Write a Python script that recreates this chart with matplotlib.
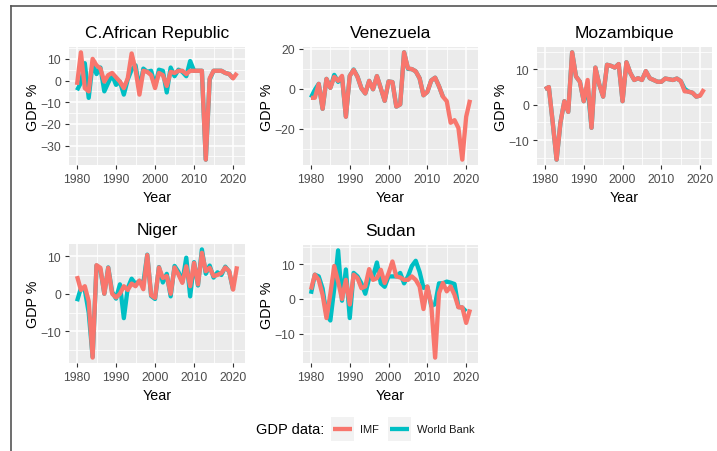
import numpy as np
import matplotlib
matplotlib.use('Agg')
import matplotlib.pyplot as plt
from matplotlib.lines import Line2D
from matplotlib.patches import Rectangle
from matplotlib.ticker import MultipleLocator

plt.rcParams['font.family'] = ['Liberation Sans', 'DejaVu Sans']

# Years covered by each source
years_imf = np.arange(1980, 2022)
years_wb = np.arange(1980, 2021)
years_wb_ven = np.arange(1980, 2015)

countries = ['C.African Republic', 'Venezuela', 'Mozambique', 'Niger', 'Sudan']

# Real GDP growth (%), IMF
imf_car = [-2, 13, -3.5, -5, 10, 7, 5.5, -0.5, 2.5, 3.5, 1.5, -0.5, -3.5, 1, 12.5, 5, -6.5, 4.5, 4, 2.5,
           -3.5, 3.5, 2.5, -2.5, 4, 3.5, 4.5, 4.5, 3, 4.5, 4.5, 4.5, 4.5, -36.5, 1, 4.5, 4.5, 4.5, 3.5, 3,
           1, 3.5]
imf_ven = [-4.5, -4.5, 2.5, -10, 5, 0.5, 6, 4, 6.5, -14, 6.5, 9.5, 6, 0.3, -2.3, 4, -0.2, 6.4, 0.3, -6,
           3.7, 3.4, -8.9, -7.8, 18.3, 10.3, 9.9, 8.8, 5.3, -3.2, -1.5, 4.2, 5.6, 1.3, -3.9, -6.2, -17,
           -15.7, -19.6, -35.5, -14, -5.5]
imf_moz = [4.4, 5, -5, -15.5, -5, 1, -2, 14.8, 8, 6.5, 1, 7, -6.5, 10.5, 5.7, 2.3, 11.3, 11, 10.5, 11.5,
           1, 12, 9, 7, 7.5, 7, 9.5, 7.5, 7, 6.5, 6.5, 7.4, 7.2, 7, 7.4, 6.7, 3.8, 3.7, 3.4, 2.3, 2.6, 4.4]
imf_ner = [4.7, 1, 2, -2, -17, 7.6, 6.9, 0, 6.9, 0, -1, 0, 2, 1, 2.7, 2, 3.5, 1.2, 10.3, -0.4, -1.1, 7,
           4.2, 4.7, 0, 7, 5.1, 2.9, 7.3, 2, 8.2, 2.5, 10.9, 6, 6.9, 4.7, 5, 5.5, 7, 6, 1.1, 7.3]
imf_sdn = [2.7, 7, 5.5, 1.2, -5.5, 1.5, 9.5, 5, 0, 5.5, -1.6, 7, 6, 3.1, 3.6, 8.6, 5.5, 6, 8.4, 4.6, 7.4,
           10.8, 6.5, 6.2, 5.5, 5.5, 6.5, 5.5, 3.6, -2.9, 3.6, -1.6, -16.9, 1.7, 4.6, 2.2, 3.6, 1.2, -2.4,
           -2.4, -6.9, -3]

# Real GDP growth (%), World Bank
wb_car = [-4.5, -1, 8, -8, 8, 3, 6, -5, -1, 2.5, -2, -0.5, -6.5, 0.5, 5, 7, -4, 5.5, 4, 4.5, -2.5, 5,
          4.5, -5.5, 6, 2, 5, 4, 2, 9, 4.5, 4.5, 4.5, -36.5, 0.5, 4.5, 4.5, 4.5, 3.5, 3, 1]
wb_ven = [-4.4, -0.5, 2.5, -10, 5, 0.5, 7, 3.5, 6, -13.9, 6.5, 9.7, 6.1, 0.3, -2.3, 4, -0.2, 6.4, 0.3,
          -6, 3.7, 3.4, -8.9, -7.8, 18.3, 10, 9.9, 8.8, 5.3, -3.2, -1.5, 4.2, 5.6, 1.3, -3.9]
wb_moz = [4.4, 5, -5, -15.5, -5, 1, -2, 14.8, 8, 6.5, 1, 4.9, -6.5, 10.5, 5.7, 2.3, 11.3, 11, 10.5, 11.5,
          1, 12, 9, 7, 7.5, 7, 9.5, 7.5, 7, 6.5, 6.5, 7.4, 7.2, 7, 7.4, 6.7, 4.5, 3.7, 3.4, 2.3, 2.6]
wb_ner = [-2, 1.5, 1, -5, -16.8, 7.5, 6.5, 0, 7, 0.5, -1.3, 2.5, -6.5, 1.5, 4, 2.6, 3.4, 2.8, 10.4, -0.6,
          -1.4, 7.1, 3, 5.3, -0.7, 7.4, 5.8, 3.1, 9.6, -0.7, 8.4, 2.2, 11.8, 5.3, 7.5, 4.3, 5.7, 5, 7.2,
          5.9, 1]
wb_sdn = [1.5, 7, 6.5, 3, -4.5, -6.2, 3, 14, -0.5, 8.5, -5.5, 7.5, 6.5, 4.5, 1.5, 6, 6.5, 10.5, 4.5, 3.5,
          6.5, 6.5, 6.5, 7.5, 4.5, 6.5, 9.5, 11, 7.8, 3.2, 3.5, -2, -1.5, 4.5, 4.5, 5, 4.7, 4.3, -2.3,
          -2.5, -3.6]

imf_series = [imf_car, imf_ven, imf_moz, imf_ner, imf_sdn]
wb_series = [wb_car, wb_ven, wb_moz, wb_ner, wb_sdn]
wb_years = [years_wb, years_wb_ven, years_wb, years_wb, years_wb]

# y-axis breaks per panel (major, minor)
y_steps = [(10, 5), (20, 10), (10, 5), (10, 5), (10, 5)]

IMF_COLOR = '#F8766D'
WB_COLOR = '#00BFC4'

W, H = 717, 452
fig = plt.figure(figsize=(W / 100, H / 100), dpi=100)

# panel boxes in pixels: left, top, right, bottom
boxes = [(69, 48, 245, 166), (303, 48, 478, 166), (537, 48, 712, 166),
         (69, 245, 245, 364), (303, 246, 478, 364)]


def panel(box, name, yrs_wb, wb, imf, steps):
    l, t, r, b = box
    ax = fig.add_axes([l / W, 1 - b / H, (r - l) / W, (b - t) / H])
    ax.set_facecolor('#EBEBEB')
    for s in ax.spines.values():
        s.set_visible(False)

    ax.plot(yrs_wb, wb, color=WB_COLOR, lw=3.1, solid_capstyle='butt', zorder=3)
    ax.plot(years_imf, imf, color=IMF_COLOR, lw=3.1, solid_capstyle='butt', zorder=4)

    # ggplot-style 5% expansion
    x0, x1 = years_imf.min(), years_imf.max()
    dx = (x1 - x0) * 0.05
    ax.set_xlim(x0 - dx, x1 + dx)
    vals = np.concatenate([imf, wb])
    y0, y1 = vals.min(), vals.max()
    dy = (y1 - y0) * 0.05
    ax.set_ylim(y0 - dy, y1 + dy)

    ax.xaxis.set_major_locator(MultipleLocator(10))
    ax.xaxis.set_minor_locator(MultipleLocator(5))
    ax.yaxis.set_major_locator(MultipleLocator(steps[0]))
    ax.yaxis.set_minor_locator(MultipleLocator(steps[1]))
    ax.grid(which='major', color='white', lw=1.1, zorder=0)
    ax.grid(which='minor', color='white', lw=0.55, zorder=0)
    ax.set_axisbelow(True)

    ax.tick_params(which='major', length=2.7, width=0.8, color='#333333',
                   labelsize=8.8, labelcolor='#4D4D4D', pad=3)
    ax.tick_params(which='minor', length=0)

    ax.set_title(name, fontsize=12.5, color='black', pad=7)
    ax.set_xlabel('Year', fontsize=10.3, labelpad=3.5)
    ax.set_ylabel('GDP %', fontsize=10.3, labelpad=0.5)
    return ax


for i, name in enumerate(countries):
    panel(boxes[i], name, wb_years[i], wb_series[i], imf_series[i], y_steps[i])

# legend at the bottom
def px(x, y):
    return x / W, 1 - y / H

fig.text(*px(256, 430), 'GDP data:', fontsize=10.5, va='center', ha='left')
for kx, col, lab in [(331, IMF_COLOR, 'IMF'), (388, WB_COLOR, 'World Bank')]:
    fig.add_artist(Rectangle(px(kx, 442), 23 / W, 24 / H, transform=fig.transFigure,
                             facecolor='#F2F2F2', edgecolor='none'))
    xa, ya = px(kx + 2, 430)
    xb, _ = px(kx + 21, 430)
    fig.add_artist(Line2D([xa, xb], [ya, ya], transform=fig.transFigure,
                          color=col, lw=3.1, solid_capstyle='butt'))
    fig.text(*px(kx + 29, 430.5), lab, fontsize=8, va='center', ha='left', color='#1A1A1A')

# outer frame lines (top and left)
fx, fy = px(11, 7)
fig.add_artist(Line2D([fx, 1], [fy, fy], transform=fig.transFigure, color='#555555', lw=1.2))
fig.add_artist(Line2D([fx, fx], [fy, 0], transform=fig.transFigure, color='#555555', lw=1.2))

fig.savefig('out.png', dpi=100, facecolor='white')
